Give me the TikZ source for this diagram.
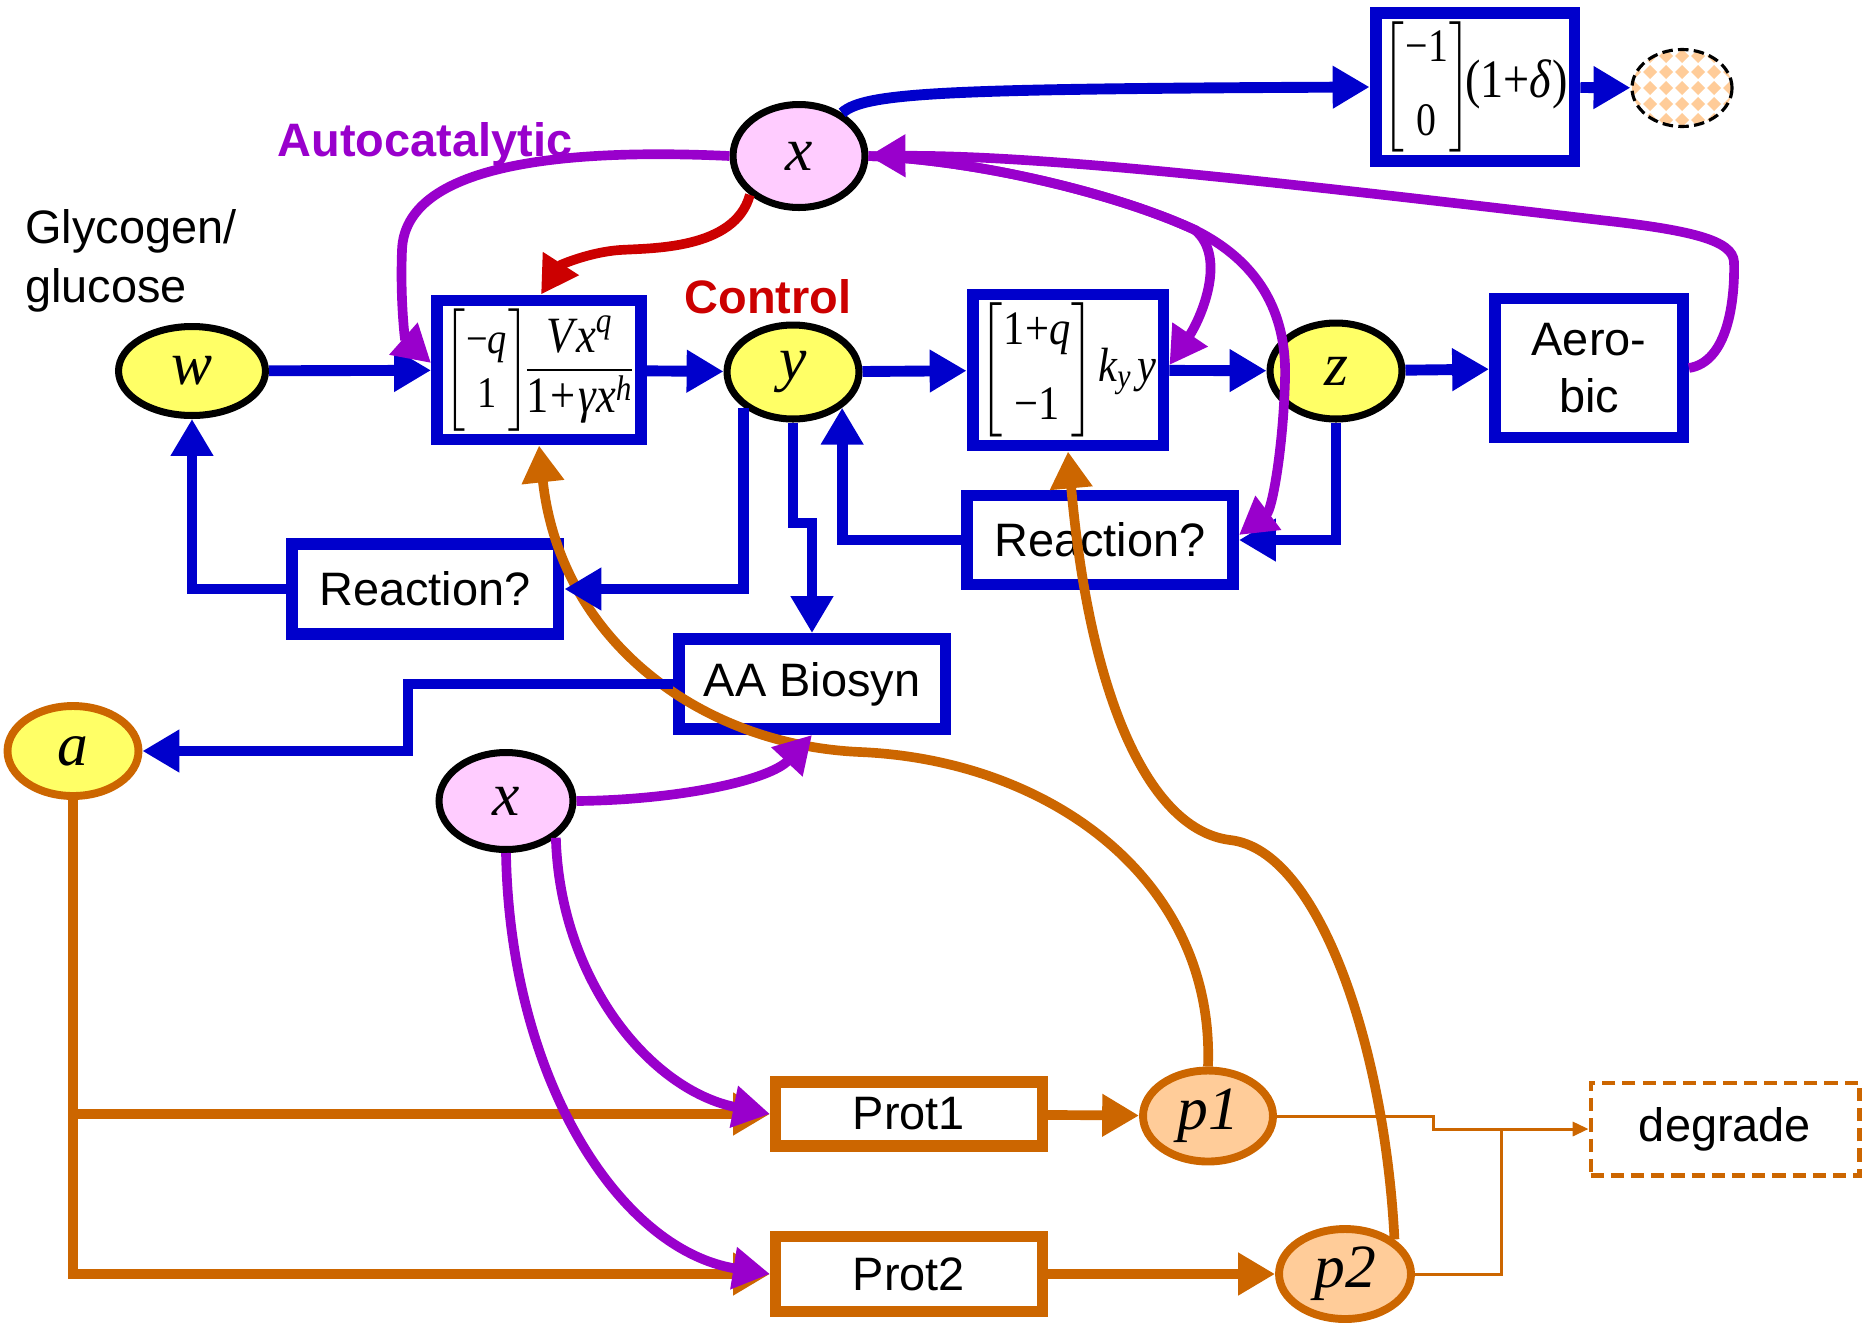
\documentclass[tikz,border=0pt]{standalone}
\usepackage{fontspec}
\usepackage{amsmath}
\usepackage{graphicx}
\setmainfont{Liberation Sans}
\newfontfamily\tnr{Liberation Serif}
\usetikzlibrary{shapes.geometric,arrows.meta}

\definecolor{cblue}{RGB}{0,0,204}
\definecolor{cpurple}{RGB}{153,0,204}
\definecolor{cred}{RGB}{204,0,0}
\definecolor{corange}{RGB}{204,102,0}
\definecolor{cyellow}{RGB}{255,255,102}
\definecolor{cpink}{RGB}{255,204,255}
\definecolor{cpeach}{RGB}{255,204,153}

\newcommand{\lbl}{\fontsize{26.7pt}{32pt}\selectfont}
\newcommand{\varfont}{\fontsize{35pt}{40pt}\selectfont\tnr\itshape}
\newcommand{\fmfont}{\fontsize{26.7pt}{33pt}\selectfont\tnr}
\newcommand{\fmbig}{\fontsize{31pt}{36pt}\selectfont\tnr}
\newcommand{\ti}[1]{\text{\tnr\itshape #1}}
\newcommand{\tu}[1]{\text{\tnr #1}}

\tikzset{
  bigtri/.tip={Triangle[length=21pt,width=23pt]},
  smalltri/.tip={Triangle[length=9pt,width=8pt]},
}

\begin{document}
\begin{tikzpicture}[x=0.02cm, y=-0.02cm,
  ell/.style={ellipse, draw=black, line width=4pt, inner sep=0pt, font=\varfont},
  oell/.style={ellipse, draw=corange, line width=4.5pt, fill=cpeach, inner sep=0pt, font=\varfont},
  bbox/.style={rectangle, draw=cblue, line width=6.8pt, fill=white, inner sep=0pt, font=\lbl, align=center},
  obox/.style={rectangle, draw=corange, line width=6.3pt, fill=white, inner sep=0pt, font=\lbl},
  blu/.style={draw=cblue, line width=6.2pt, -{bigtri}},
  pur/.style={draw=cpurple, line width=5.5pt, -{bigtri}},
  rd/.style={draw=cred, line width=5.5pt, -{bigtri}},
  org/.style={draw=corange, line width=5.5pt, -{bigtri}},
  thinorg/.style={draw=corange, line width=1.7pt},
  word/.style={font=\lbl, inner sep=0pt},
]
\useasboundingbox (0,0) rectangle (1865,1326);

% ---------- free text ----------
\node[word, anchor=base west] (gly1) at (25,243) {Glycogen/};
\node[word, anchor=base west] (gly2) at (25,302) {glucose};
\node[word, font=\lbl\bfseries, text=cpurple, anchor=base] (auto) at (425,156) {Autocatalytic};
\node[word, font=\lbl\bfseries, text=cred, anchor=base] (ctrl) at (768,313) {Control};

% ---------- metabolite ellipses ----------
\node[ell, fill=cyellow, minimum width=2.94cm, minimum height=1.78cm] (w) at (192,371) {w};
\node[ell, fill=cpink, minimum width=2.64cm, minimum height=2.06cm] (xt) at (799,156) {x};
\node[ell, fill=cyellow, minimum width=2.64cm, minimum height=1.88cm] (y) at (793,372) {y};
\node[ell, fill=cyellow, minimum width=2.64cm, minimum height=1.92cm] (z) at (1336,371) {z};
\node[ell, draw=corange, line width=4.5pt, fill=cyellow, minimum width=2.62cm, minimum height=1.80cm] (a) at (73,751) {a};
\node[ell, fill=cpink, minimum width=2.68cm, minimum height=1.94cm] (xb) at (506,801) {x};
\node[oell, minimum width=2.60cm, minimum height=1.82cm] (p1) at (1208,1116) {p1};
\node[oell, minimum width=2.64cm, minimum height=1.80cm] (p2) at (1345,1274) {p2};

% sink: dashed ellipse with a diamond pattern
\node[ellipse, draw=black, line width=1.8pt, dash pattern=on 6pt off 3pt,
      minimum width=2.0cm, minimum height=1.54cm, inner sep=0pt,
      path picture={
        \foreach \i in {-5,...,5}{
          \foreach \j in {-4,...,4}{
            \fill[cpeach] ([shift={(\i*16,\j*16)}]path picture bounding box.center)
              +(-7,0) -- +(0,7) -- +(7,0) -- +(0,-7) -- cycle;
          }
        }
      }] (sink) at (1682,88) {};

% ---------- reaction boxes ----------
\node[bbox, minimum width=4.08cm, minimum height=2.78cm] (f1) at (539,370)
  {\resizebox*{3.8cm}{2.45cm}{\fmfont$\left[\begin{array}{@{\hspace{1pt}}c@{\hspace{1pt}}}\tu{−}\ti{q}\\ \tu{1}\end{array}\right]\kern-3pt$\fmbig$\dfrac{\ti{V\kern1.5pt x}^{\ti{q}}}{\tu{1\kern1pt+\kern2pt}\ti{γx}^{\ti{h}}}$}};
\node[bbox, minimum width=3.82cm, minimum height=3.02cm] (f2) at (1068,370)
  {\resizebox*{3.55cm}{2.7cm}{\fmfont$\left[\begin{array}{@{\hspace{1pt}}c@{\hspace{1pt}}}\tu{1+}\ti{q}\\[9pt] \tu{−1}\end{array}\right]\kern-2pt\ti{k}_{\ti{y}}\,\ti{y}$}};
\node[bbox, minimum width=3.98cm, minimum height=2.96cm] (fd) at (1475,87)
  {\resizebox*{3.7cm}{2.62cm}{\fmfont$\left[\begin{array}{@{\hspace{1pt}}c@{\hspace{1pt}}}\tu{−1}\\[9pt] \tu{0}\end{array}\right]\kern-4pt$\fmbig(1+\textit{δ})}};
\node[bbox, minimum width=3.76cm, minimum height=2.78cm] (aer) at (1589,368) {Aero-\\bic};
\node[bbox, minimum width=5.34cm, minimum height=1.80cm] (rl) at (425,589) {Reaction?};
\node[bbox, minimum width=5.32cm, minimum height=1.78cm] (rr) at (1100,540) {Reaction?};
\node[bbox, minimum width=5.34cm, minimum height=1.80cm] (aa) at (812,684) {AA Biosyn};
\node[obox, minimum width=5.34cm, minimum height=1.28cm] (prot1) at (909,1114) {Prot1};
\node[obox, minimum width=5.34cm, minimum height=1.50cm] (prot2) at (909,1274) {Prot2};
\node[rectangle, draw=corange, line width=2.3pt, dash pattern=on 7.5pt off 4pt,
      minimum width=5.38cm, minimum height=1.86cm, inner sep=0pt, font=\lbl] (deg) at (1725,1129) {degrade};

% ---------- joints ----------
\coordinate (j1) at (812,523);
\coordinate (j2) at (408,684);
\coordinate (abr) at (a.south |- prot1.west);
\coordinate (s1) at (1433,1129);
\coordinate (s2) at (1501,1129);
\coordinate (sp) at (1195,230);

% ---------- protein synthesis (orange) ----------
\draw[org] (a.south) |- (prot2.west);
\draw[org] (abr) -- (prot1.west);
\draw[org] (prot1) -- (p1);
\draw[org] (prot2) -- (p2);
\draw[org] (p1.north) .. controls (1215,880) and (1050,760) .. (860,752)
  .. controls (700,745) and (560,640) .. (f1.south);
\draw[org] (p2.north east) .. controls (1385,1050) and (1320,850) .. (1230,840)
  .. controls (1150,830) and (1090,700) .. (f2.south);

% ---------- mass flow (blue) ----------
\draw[blu] (w) -- (f1);
\draw[blu] (f1) -- (y);
\draw[blu] (y) -- (f2);
\draw[blu] (f2) -- (z);
\draw[blu] (z) -- (aer);
\draw[blu] (xt.45) .. controls (865,92) and (950,89) .. (fd.west);
\draw[blu] (fd) -- (sink);
\draw[blu] (y.south west) |- (rl.east);
\draw[blu] (rl.west) -| (w.south);
\draw[blu] (y.south) |- (j1) -- (aa.north);
\draw[blu] (rr.west) -| (y.south east);
\draw[blu] (z.south) |- (rr.east);
\draw[blu] (aa.west) -- (j2) |- (a.east);

% ---------- regulation by x (purple) ----------
\draw[pur] (xt.west) .. controls (560,148) and (405,165) .. (402,250)
  .. controls (400,300) and (405,340) .. ([yshift=0.14cm]f1.west);
\draw[pur] (aer.east) .. controls (1728,362) and (1735,300) .. (1734,262)
  .. controls (1733,240) and (1690,230) .. (1600,220)
  .. controls (1300,185) and (1050,155) .. (xt.east);
\draw[pur] (xt.east) .. controls (980,160) and (1120,195) .. (sp)
  .. controls (1228,258) and (1200,320) .. ([yshift=0.1cm]f2.east);
\draw[pur] (xt.east) .. controls (980,160) and (1120,195) .. (sp)
  .. controls (1265,265) and (1287,320) .. (1285,380)
  .. controls (1283,450) and (1272,510) .. ([yshift=0.1cm]rr.east);
\draw[pur] (xb.east) .. controls (680,800) and (770,780) .. (aa.south);
\draw[pur] (xb.south east) .. controls (560,980) and (650,1090) .. (prot1.west);
\draw[pur] (xb.south) .. controls (510,1080) and (620,1250) .. (prot2.west);

% ---------- control (red) ----------
\draw[rd] (xt.south west) .. controls (735,250) and (650,248) .. (620,250)
  .. controls (590,252) and (560,265) .. ([xshift=0.04cm]f1.north);

% ---------- degradation (thin orange) ----------
\draw[thinorg, -{smalltri}] (p1.east) -| (s1) -- (deg.west);
\draw[thinorg] (p2.east) -| (s2);
\end{tikzpicture}
\end{document}
